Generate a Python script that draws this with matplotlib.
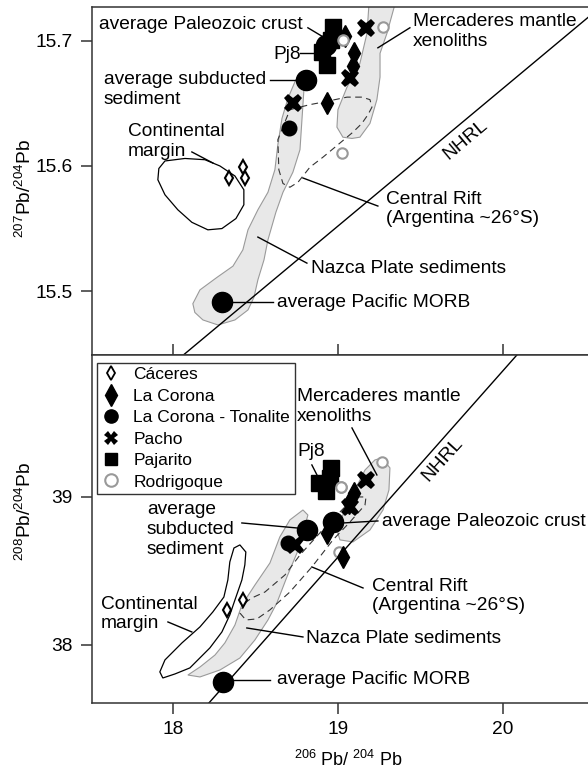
import numpy as np
import matplotlib.pyplot as plt
from matplotlib.patches import Polygon
from matplotlib.lines import Line2D

plt.rcParams['font.family'] = ['Liberation Sans', 'DejaVu Sans']
plt.rcParams['mathtext.fontset'] = 'custom'
plt.rcParams['mathtext.rm'] = 'Liberation Sans'
plt.rcParams['mathtext.default'] = 'rm'

# ---------------- samples, 207Pb/204Pb panel ----------------
caceres_x_t = [18.339, 18.424, 18.436]
caceres_y_t = [15.590, 15.599, 15.590]
corona_x_t = [19.042, 19.097, 19.091, 18.933]
corona_y_t = [15.704, 15.690, 15.680, 15.650]
tonal_x_t = [18.703]
tonal_y_t = [15.630]
pacho_x_t = [19.170, 19.073, 18.727]
pacho_y_t = [15.710, 15.670, 15.650]
pajar_x_t = [18.970, 18.958, 18.903, 18.933]
pajar_y_t = [15.711, 15.701, 15.691, 15.681]
rodri_x_t = [19.030, 19.273, 19.024]
rodri_y_t = [15.701, 15.711, 15.610]
# averages: subducted sediment, Paleozoic crust, Pacific MORB
avg_x_t = [18.806, 18.927, 18.297]
avg_y_t = [15.669, 15.697, 15.491]

# ---------------- samples, 208Pb/204Pb panel ----------------
caceres_x_b = [18.327, 18.424]
caceres_y_b = [38.237, 38.304]
corona_x_b = [19.097, 19.067, 18.933, 19.030]
corona_y_b = [39.027, 38.960, 38.757, 38.595]
tonal_x_b = [18.697]
tonal_y_b = [38.689]
pacho_x_b = [19.170, 19.073, 18.739]
pacho_y_b = [39.115, 38.932, 38.676]
pajar_x_b = [18.958, 18.952, 18.885, 18.927]
pajar_y_b = [39.196, 39.128, 39.095, 39.041]
rodri_x_b = [19.018, 19.006, 19.267]
rodri_y_b = [39.068, 38.628, 39.237]
avg_x_b = [18.812, 18.970, 18.303]
avg_y_b = [38.777, 38.831, 37.750]

# ---------------- reference fields, 207 panel ----------------
nazca_x_t = [18.121, 18.164, 18.267, 18.364, 18.424, 18.455, 18.515, 18.576, 18.618,
             18.636, 18.661, 18.697, 18.745, 18.782, 18.818, 18.794, 18.782, 18.770,
             18.727, 18.667, 18.624, 18.576, 18.552, 18.515, 18.491, 18.455, 18.376,
             18.273, 18.182, 18.133]
nazca_y_t = [15.490, 15.501, 15.511, 15.520, 15.533, 15.549, 15.565, 15.579, 15.597,
             15.617, 15.638, 15.654, 15.669, 15.675, 15.674, 15.661, 15.637, 15.613,
             15.595, 15.579, 15.563, 15.541, 15.525, 15.509, 15.495, 15.485, 15.477,
             15.473, 15.477, 15.483]
merc_x_t = [19.194, 19.176, 19.133, 19.055, 19.000, 18.994, 19.030, 19.085, 19.133,
            19.194, 19.236, 19.255, 19.255, 19.297, 19.370]
merc_y_t = [15.741, 15.706, 15.682, 15.663, 15.645, 15.631, 15.623, 15.622, 15.623,
            15.634, 15.653, 15.671, 15.690, 15.706, 15.741]
rift_x_t = [18.709, 18.830, 18.909, 19.055, 19.145, 19.194, 19.206, 19.182, 19.145,
            19.091, 18.982, 18.909, 18.830, 18.758, 18.709, 18.667, 18.642, 18.636]
rift_y_t = [15.645, 15.649, 15.651, 15.655, 15.655, 15.653, 15.647, 15.641, 15.634,
            15.627, 15.615, 15.607, 15.599, 15.587, 15.583, 15.586, 15.597, 15.621]
cont_x_t = [17.952, 18.073, 18.194, 18.285, 18.376, 18.430, 18.430, 18.382, 18.297,
            18.212, 18.115, 18.030, 17.952, 17.909, 17.915]
cont_y_t = [15.604, 15.606, 15.605, 15.600, 15.592, 15.581, 15.569, 15.558, 15.550,
            15.549, 15.555, 15.565, 15.577, 15.589, 15.598]
nhrl_x_t = [18.0, 20.6]
nhrl_y_t = [15.442, 15.728]

# ---------------- reference fields, 208 panel ----------------
nazca_x_b = [18.091, 18.164, 18.255, 18.315, 18.376, 18.418, 18.497, 18.588, 18.648,
             18.709, 18.788, 18.818, 18.782, 18.752, 18.691, 18.630, 18.576, 18.497,
             18.406, 18.285, 18.164]
nazca_y_b = [37.797, 37.851, 37.932, 38.014, 38.135, 38.270, 38.405, 38.554, 38.730,
             38.845, 38.912, 38.878, 38.730, 38.622, 38.460, 38.284, 38.169, 38.034,
             37.912, 37.831, 37.784]
merc_x_b = [19.267, 19.315, 19.309, 19.273, 19.194, 19.091, 19.012, 18.994, 19.042,
            19.103, 19.164, 19.224]
merc_y_b = [39.264, 39.196, 39.047, 38.912, 38.777, 38.696, 38.710, 38.777, 38.912,
            39.047, 39.182, 39.250]
rift_x_b = [18.436, 18.406, 18.442, 18.509, 18.588, 18.709, 18.842, 18.970, 19.073,
            19.164, 19.170, 19.121, 19.042, 18.952, 18.879, 18.770, 18.679, 18.558,
            18.479]
rift_y_b = [38.284, 38.216, 38.169, 38.176, 38.237, 38.358, 38.527, 38.710, 38.831,
            38.946, 39.000, 39.000, 38.932, 38.831, 38.743, 38.608, 38.473, 38.358,
            38.318]
cont_x_b = [18.406, 18.442, 18.436, 18.418, 18.376, 18.345, 18.297, 18.224, 18.103,
            18.012, 17.939, 17.921, 17.952, 18.055, 18.164, 18.242, 18.309, 18.333,
            18.345, 18.370]
cont_y_b = [38.676, 38.628, 38.541, 38.439, 38.304, 38.203, 38.088, 37.980, 37.845,
            37.804, 37.777, 37.818, 37.899, 38.014, 38.122, 38.223, 38.324, 38.439,
            38.561, 38.655]
nhrl_x_b = [18.1, 20.6]
nhrl_y_b = [37.459, 40.609]

FS = 13.8

fig = plt.figure(figsize=(5.88, 7.69), dpi=100)
ax1 = fig.add_axes([92 / 588, 1 - 355 / 769, 496 / 588, 348 / 769])
ax2 = fig.add_axes([92 / 588, 1 - 703 / 769, 496 / 588, 348 / 769])

for ax in (ax1, ax2):
    ax.set_xlim(17.51, 20.515)
    ax.set_xticks([18, 19, 20])
    ax.spines['right'].set_visible(False)
    for s in ('left', 'top', 'bottom'):
        ax.spines[s].set_color('#333333')
        ax.spines[s].set_linewidth(1.1)
    ax.tick_params(axis='y', direction='out', length=8, width=1.1, color='#333333',
                   labelsize=FS, pad=6)
ax1.tick_params(axis='x', direction='in', length=8, width=1.1, color='#333333',
                labelbottom=False)
ax2.tick_params(axis='x', direction='out', length=8, width=1.1, color='#333333',
                labelsize=FS, pad=5)
ax1.set_ylim(15.449, 15.727)
ax1.set_yticks([15.5, 15.6, 15.7])
ax2.set_ylim(37.608, 39.959)
ax2.set_yticks([38, 39])


def fields(ax, nx, ny, mx, my, rx, ry, cx, cy, hx, hy):
    ax.add_patch(Polygon(np.column_stack([nx, ny]), closed=True, fc='#e8e8e8',
                         ec='#9a9a9a', lw=0.8, zorder=1))
    ax.add_patch(Polygon(np.column_stack([mx, my]), closed=True, fc='#e8e8e8',
                         ec='#9a9a9a', lw=0.8, zorder=1))
    ax.add_patch(Polygon(np.column_stack([rx, ry]), closed=True, fc='none',
                         ec='#333333', lw=0.8, ls=(0, (6, 4)), zorder=2))
    ax.add_patch(Polygon(np.column_stack([cx, cy]), closed=True, fc='none',
                         ec='black', lw=0.9, zorder=2))
    ax.plot(hx, hy, color='black', lw=1.0, zorder=2)


def samples(ax, d):
    ax.plot(d[0], d[1], ls='none', marker='d', ms=7.5, mfc='white', mec='black', mew=1.5, zorder=4)
    ax.plot(d[10], d[11], ls='none', marker='o', ms=7.5, mfc='white', mec='#999999', mew=1.5, zorder=3)
    ax.plot(d[2], d[3], ls='none', marker='d', ms=11, color='black', zorder=4)
    ax.plot(d[12], d[13], ls='none', marker='o', ms=14.5, color='black', zorder=4)
    ax.plot(d[4], d[5], ls='none', marker='o', ms=10.5, color='black', zorder=4)
    ax.plot(d[6], d[7], ls='none', marker='X', ms=13, color='black', mew=0, zorder=4)
    ax.plot(d[8], d[9], ls='none', marker='s', ms=11.5, color='black', zorder=5)


fields(ax1, nazca_x_t, nazca_y_t, merc_x_t, merc_y_t, rift_x_t, rift_y_t,
       cont_x_t, cont_y_t, nhrl_x_t, nhrl_y_t)
fields(ax2, nazca_x_b, nazca_y_b, merc_x_b, merc_y_b, rift_x_b, rift_y_b,
       cont_x_b, cont_y_b, nhrl_x_b, nhrl_y_b)
samples(ax1, [caceres_x_t, caceres_y_t, corona_x_t, corona_y_t, tonal_x_t, tonal_y_t,
              pacho_x_t, pacho_y_t, pajar_x_t, pajar_y_t, rodri_x_t, rodri_y_t,
              avg_x_t, avg_y_t])
samples(ax2, [caceres_x_b, caceres_y_b, corona_x_b, corona_y_b, tonal_x_b, tonal_y_b,
              pacho_x_b, pacho_y_b, pajar_x_b, pajar_y_b, rodri_x_b, rodri_y_b,
              avg_x_b, avg_y_b])
# open circle over the Pajarito cluster
ax1.plot(rodri_x_t[:1], rodri_y_t[:1], ls='none', marker='o', ms=7.5, mfc='white', mec='#999999', mew=1.5, zorder=6)
ax2.plot(rodri_x_b[:1], rodri_y_b[:1], ls='none', marker='o', ms=7.5, mfc='white', mec='#999999', mew=1.5, zorder=6)


def lead(ax, x0, y0, x1, y1):
    ax.plot([x0, x1], [y0, y1], color='black', lw=1.0, zorder=2)


# ---------- annotations top ----------
kw = dict(fontsize=FS, va='center', ha='left', linespacing=1.2, zorder=7)
ax1.text(17.552, 15.7128, 'average Paleozoic crust', **kw)
lead(ax1, 18.818, 15.7104, 18.909, 15.7032)
ax1.text(18.606, 15.6888, 'Pj8', **kw)
lead(ax1, 18.770, 15.6904, 18.848, 15.6904)
ax1.text(17.582, 15.6612, 'average subducted\nsediment', **kw)
lead(ax1, 18.588, 15.6688, 18.745, 15.6688)
ax1.text(17.727, 15.6196, 'Continental\nmargin', **kw)
lead(ax1, 18.115, 15.6112, 18.242, 15.6024)
ax1.text(19.455, 15.7076, 'Mercaderes mantle\nxenoliths', **kw)
lead(ax1, 19.436, 15.7104, 19.242, 15.6944)
ax1.text(19.291, 15.5656, 'Central Rift\n(Argentina ~26°S)', **kw)
lead(ax1, 18.788, 15.5904, 19.242, 15.568)
ax1.text(18.836, 15.5184, 'Nazca Plate sediments', **kw)
lead(ax1, 18.515, 15.5432, 18.812, 15.5224)
ax1.text(18.630, 15.4912, 'average Pacific MORB', **kw)
lead(ax1, 18.345, 15.4912, 18.606, 15.4912)
ax1.text(19.770, 15.6208, 'NHRL', fontsize=FS, rotation=40, ha='center', va='center')

# ---------- annotations bottom ----------
ax2.text(18.752, 39.6115, 'Mercaderes mantle\nxenoliths', **kw)
lead(ax2, 19.085, 39.4662, 19.236, 39.1486)
ax2.text(18.752, 39.304, 'Pj8', **kw)
lead(ax2, 18.842, 39.2162, 18.873, 39.1486)
ax2.text(19.267, 38.8311, 'average Paleozoic crust', **kw)
lead(ax2, 19.030, 38.8243, 19.242, 38.8378)
ax2.text(17.842, 38.7804, 'average\nsubducted\nsediment', **kw)
lead(ax2, 18.418, 38.8243, 18.752, 38.7905)
ax2.text(17.564, 38.2095, 'Continental\nmargin', **kw)
lead(ax2, 17.970, 38.1554, 18.115, 38.0878)
ax2.text(19.206, 38.3311, 'Central Rift\n(Argentina ~26°S)', **kw)
lead(ax2, 18.842, 38.527, 19.152, 38.3851)
ax2.text(18.806, 38.0405, 'Nazca Plate sediments', **kw)
lead(ax2, 18.448, 38.1149, 18.788, 38.0541)
ax2.text(18.630, 37.7635, 'average Pacific MORB', **kw)
lead(ax2, 18.364, 37.7635, 18.588, 37.7635)
ax2.text(19.636, 39.25, 'NHRL', fontsize=FS, rotation=48, ha='center', va='center')

# ---------- legend ----------
handles = [
    Line2D([], [], ls='none', marker='d', ms=7.5, mfc='white', mec='black', mew=1.3),
    Line2D([], [], ls='none', marker='d', ms=11, color='black'),
    Line2D([], [], ls='none', marker='o', ms=9.5, color='black'),
    Line2D([], [], ls='none', marker='X', ms=9.5, color='black', mew=0),
    Line2D([], [], ls='none', marker='s', ms=9, color='black'),
    Line2D([], [], ls='none', marker='o', ms=9, mfc='white', mec='#999999', mew=1.5),
]
labels = ['Cáceres', 'La Corona', 'La Corona - Tonalite', 'Pacho', 'Pajarito', 'Rodrigoque']
leg = ax2.legend(handles, labels, loc='upper left', bbox_to_anchor=(0.010, 0.977),
                 borderaxespad=0, fontsize=12.5, frameon=True, fancybox=False,
                 edgecolor='#333333', framealpha=1, handlelength=1.1,
                 handletextpad=0.75, labelspacing=0.36, borderpad=0.25)
leg.get_frame().set_linewidth(1.0)
leg.set_zorder(8)

# ---------- axis labels ----------
fig.text(25 / 588, 1 - 188 / 769, r'$^{207}$Pb/$^{204}$Pb', rotation=90,
         ha='center', va='center', fontsize=FS)
fig.text(25 / 588, 1 - 511 / 769, r'$^{208}$Pb/$^{204}$Pb', rotation=90,
         ha='center', va='center', fontsize=FS)
fig.text(348 / 588, 1 - 760 / 769, r'$^{206}$ Pb/ $^{204}$ Pb', ha='center',
         va='center', fontsize=13)

fig.savefig('out.png', dpi=100)
